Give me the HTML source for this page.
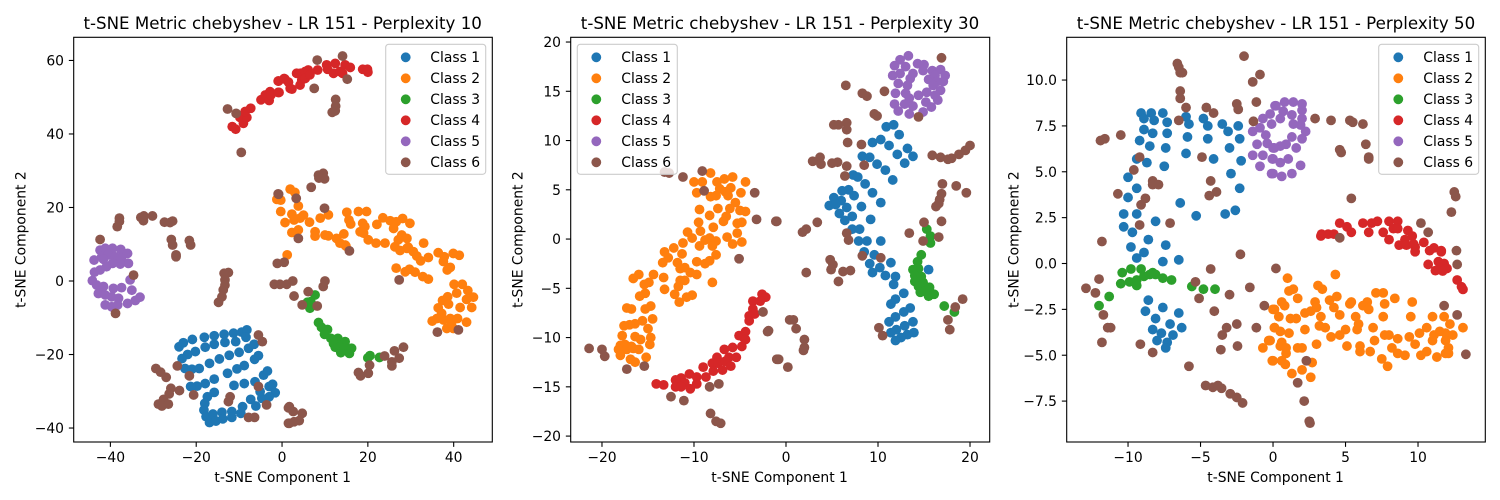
<!DOCTYPE html>
<html lang="en">
<head>
<meta charset="utf-8">
<title>t-SNE Metric chebyshev - LR 151</title>
<style>
html,body{margin:0;padding:0;background:#fff;width:1500px;height:500px;overflow:hidden}
svg{display:block}
text{font-family:"DejaVu Sans","Liberation Sans",sans-serif;fill:#000}
.title{font-size:16.67px;text-anchor:middle}
.axis-label{font-size:13.89px;text-anchor:middle}
.legend-text{font-size:13.89px}
.tick{font-size:13.89px}
.legend-box{fill:#fff;fill-opacity:.8;stroke:#ccc;stroke-width:1.1}
.spine{fill:none;stroke:#000;stroke-width:1.1}
</style>
</head>
<body>
<svg id="figure" width="1500" height="500" viewBox="0 0 1500 500" xmlns="http://www.w3.org/2000/svg">
<g id="panel-1">
  <g id="marks-1"></g>
  <rect class="spine" x="73.7" y="37.3" width="418.6" height="404.7"/>
  <g id="ticks-1"></g>
  <text class="title" x="282.7" y="29">t-SNE Metric chebyshev - LR 151 - Perplexity 10</text>
  <text class="axis-label" x="282.7" y="482">t-SNE Component 1</text>
  <text class="axis-label" transform="translate(25.6,239.6) rotate(-90)">t-SNE Component 2</text>
  <g>
    <rect class="legend-box" x="385.7" y="44.3" width="100" height="130" rx="3"/>
    <g><circle cx="405.7" cy="57.3" r="4.9" fill="#1f77b4"/><text class="legend-text" x="430.3" y="62">Class 1</text></g>
    <g><circle cx="405.7" cy="78.3" r="4.9" fill="#ff7f0e"/><text class="legend-text" x="430.3" y="83">Class 2</text></g>
    <g><circle cx="405.7" cy="99.3" r="4.9" fill="#2ca02c"/><text class="legend-text" x="430.3" y="104">Class 3</text></g>
    <g><circle cx="405.7" cy="120.3" r="4.9" fill="#d62728"/><text class="legend-text" x="430.3" y="125">Class 4</text></g>
    <g><circle cx="405.7" cy="141.3" r="4.9" fill="#9467bd"/><text class="legend-text" x="430.3" y="146">Class 5</text></g>
    <g><circle cx="405.7" cy="162.3" r="4.9" fill="#8c564b"/><text class="legend-text" x="430.3" y="167">Class 6</text></g>
  </g>
</g>
<g id="panel-2">
  <g id="marks-2"></g>
  <rect class="spine" x="570.7" y="37.3" width="419" height="404.7"/>
  <g id="ticks-2"></g>
  <text class="title" x="780" y="29">t-SNE Metric chebyshev - LR 151 - Perplexity 30</text>
  <text class="axis-label" x="779.6" y="482">t-SNE Component 1</text>
  <text class="axis-label" transform="translate(522.6,239.6) rotate(-90)">t-SNE Component 2</text>
  <g>
    <rect class="legend-box" x="577.3" y="44.3" width="100" height="130" rx="3"/>
    <g><circle cx="596.3" cy="57.3" r="4.9" fill="#1f77b4"/><text class="legend-text" x="621.3" y="62">Class 1</text></g>
    <g><circle cx="596.3" cy="78.3" r="4.9" fill="#ff7f0e"/><text class="legend-text" x="621.3" y="83">Class 2</text></g>
    <g><circle cx="596.3" cy="99.3" r="4.9" fill="#2ca02c"/><text class="legend-text" x="621.3" y="104">Class 3</text></g>
    <g><circle cx="596.3" cy="120.3" r="4.9" fill="#d62728"/><text class="legend-text" x="621.3" y="125">Class 4</text></g>
    <g><circle cx="596.3" cy="141.3" r="4.9" fill="#9467bd"/><text class="legend-text" x="621.3" y="146">Class 5</text></g>
    <g><circle cx="596.3" cy="162.3" r="4.9" fill="#8c564b"/><text class="legend-text" x="621.3" y="167">Class 6</text></g>
  </g>
</g>
<g id="panel-3">
  <g id="marks-3"></g>
  <rect class="spine" x="1066.7" y="37.3" width="418.6" height="404.7"/>
  <g id="ticks-3"></g>
  <text class="title" x="1276" y="29">t-SNE Metric chebyshev - LR 151 - Perplexity 50</text>
  <text class="axis-label" x="1275.6" y="482">t-SNE Component 1</text>
  <text class="axis-label" transform="translate(1018.6,239.6) rotate(-90)">t-SNE Component 2</text>
  <g>
    <rect class="legend-box" x="1378.7" y="44.3" width="100" height="130" rx="3"/>
    <g><circle cx="1398.3" cy="57.3" r="4.9" fill="#1f77b4"/><text class="legend-text" x="1423.3" y="62">Class 1</text></g>
    <g><circle cx="1398.3" cy="78.3" r="4.9" fill="#ff7f0e"/><text class="legend-text" x="1423.3" y="83">Class 2</text></g>
    <g><circle cx="1398.3" cy="99.3" r="4.9" fill="#2ca02c"/><text class="legend-text" x="1423.3" y="104">Class 3</text></g>
    <g><circle cx="1398.3" cy="120.3" r="4.9" fill="#d62728"/><text class="legend-text" x="1423.3" y="125">Class 4</text></g>
    <g><circle cx="1398.3" cy="141.3" r="4.9" fill="#9467bd"/><text class="legend-text" x="1423.3" y="146">Class 5</text></g>
    <g><circle cx="1398.3" cy="162.3" r="4.9" fill="#8c564b"/><text class="legend-text" x="1423.3" y="167">Class 6</text></g>
  </g>
</g>
</svg>
<script>
// ---- categories ----
const classNames = ["Class 1","Class 2","Class 3","Class 4","Class 5","Class 6"];

// ---- tick values and labels ----
const p1XTicks = [-40,-20,0,20,40];
const p1YTicks = [-40,-20,0,20,40,60];
const p2XTicks = [-20,-10,0,10,20];
const p2YTicks = [-20,-15,-10,-5,0,5,10,15,20];
const p3XTicks = [-10,-5,0,5,10];
const p3YTicks = [-7.5,-5,-2.5,0,2.5,5,7.5,10];
const p3YTickLabels = ["\u22127.5","\u22125.0","\u22122.5","0.0","2.5","5.0","7.5","10.0"];

// ---- Perplexity 10 series [x, y] ----
const p1Class1 = [[-24,-17.9],[-23,-16.8],[-20.9,-15.9],[-18.1,-15.3],[-15.8,-14.9],[-13.5,-14.5],[-11.3,-14.2],[-9.4,-13.9],[-8.2,-13.3],[-8.4,-15.3],[-10.8,-16.5],[-13.3,-16.7],[-15.8,-17.2],[-17.9,-18],[-20.2,-19.2],[-22,-20],[-23.3,-21.1],[-22.6,-23.8],[-21,-24],[-19.3,-23.8],[-16.9,-22.4],[-14.6,-21.2],[-12.3,-20.2],[-10,-19.4],[-7.8,-18.3],[-6.5,-17.2],[-5.5,-20.3],[-6.4,-21.3],[-8.8,-23],[-10.5,-23.9],[-12.7,-25.1],[-15.8,-26.7],[-17.9,-27.9],[-19.8,-28.6],[-21.3,-28.7],[-15.8,-30.3],[-17.4,-31.5],[-18,-33.3],[-18.2,-35.1],[-17.7,-36.9],[-16.9,-38.5],[-16.1,-36.2],[-15.4,-38.1],[-14,-35.7],[-13.8,-37.5],[-11.7,-35.5],[-11.7,-37.1],[-9.6,-36],[-9.2,-34.2],[-7.3,-32.2],[-6.1,-34],[-4.7,-31.9],[-5.1,-30.1],[-3,-28.7],[-2.2,-28.1],[-1.6,-30.4],[-3,-31.5],[-4.3,-25.6],[-3.4,-24.5],[-6.3,-27.4],[-8.8,-27.9],[-11.2,-28.4]];
const p1Class2 = [[1.9,25],[3,24.1],[-1.2,22.2],[-0.3,22],[-0.3,18.9],[3.8,20.4],[2.3,18.2],[5,17.9],[0.7,15.9],[2.8,16.6],[4.2,17.1],[6.4,16],[8.9,17.1],[10.8,18],[15.1,18.7],[17.8,18.9],[19.7,18.9],[15.6,16.6],[16,15.5],[23.5,17.2],[22.1,15.4],[25.2,16.4],[28.1,17],[26.6,16.1],[29.8,15.7],[26,14.3],[18.8,15.7],[18.2,13.4],[19.3,14.8],[2.3,13.2],[3.8,13.9],[7.7,13.4],[7.7,12.2],[10,12.5],[10.8,12.3],[14.4,12.8],[12.7,11.6],[20.1,11.2],[21.9,10.3],[24,10.3],[19,13],[27.9,12.5],[29.1,11.6],[27.1,11.2],[33,10.3],[13.5,10.3],[14.7,9.8],[26.3,9.3],[29.1,8.9],[1.2,7.1],[14.9,9.5],[27.5,8.3],[29.4,9.2],[30.6,8],[31.4,6.8],[32.3,5.5],[34.1,6.4],[36.4,7.7],[37.8,6.6],[37.6,5.3],[39.9,7.5],[41.3,7],[39.2,3.7],[38.5,3],[26.6,3.5],[28.7,2.5],[29.7,3.2],[31,2.4],[32.8,1.2],[34.1,0.5],[40.1,-0.9],[42,-0.9],[40.7,-3.3],[43.3,-2.6],[44.6,-4.4],[43,-5],[38.6,-4.3],[37.4,-5.3],[38.8,-6.3],[44.2,-7.2],[41.5,-7.2],[36.4,-7.3],[37.2,-8.8],[36.1,-10.2],[35,-10.9],[37.6,-10.6],[39.2,-10.2],[40.9,-10.2],[43,-11.2],[38.4,-12.9],[39.9,-12.9],[39.5,-11.5]];
const p1Class3 = [[7.7,-3.8],[6.7,-5.6],[5.9,-5.8],[6.5,-7.4],[8.5,-11.3],[9.2,-12.6],[10.6,-13.2],[9.9,-14.5],[11.4,-15.6],[13,-15.6],[12,-17],[12.4,-18],[14.7,-16.5],[13.5,-17.9],[14.5,-18.3],[13.7,-19.5],[15.7,-19.7],[16.2,-18.3],[20.5,-20.3],[20,-20.9],[22.7,-20.8]];
const p1Class4 = [[-11.6,42],[-10.8,41.3],[-9,42.9],[-9.8,44.5],[-8.2,44.5],[-8.6,46.1],[-7.3,47],[-4.9,49.3],[-3.9,50.6],[-3,49.1],[-2.8,51.5],[-0.7,51.3],[-0.8,54.4],[0.7,54.9],[1.9,52.4],[-2.6,50.6],[-0.9,51.3],[-0.9,54.4],[0.5,55.1],[1.5,54.1],[2.3,52.2],[3.4,56.5],[4.3,56.5],[5.4,57],[6.1,57.4],[4.6,54.7],[4.2,53.3],[5.4,55.1],[6.5,56.1],[8.3,57.4],[10.4,58.8],[12.4,59.2],[10.6,57.6],[12,56.5],[13.5,57],[14.7,58.8],[15.9,58.1],[14.1,56.5],[18.8,57.6],[19.9,57.6],[20,56.8]];
const p1Class5 = [[-42.4,8.4],[-41.2,8.9],[-39.5,8.9],[-37.6,8.6],[-36,7.5],[-43.8,5.7],[-42,6.6],[-40.5,7.1],[-38.9,6.6],[-37.4,6.2],[-41.6,5.9],[-35.8,4.8],[-37.7,4.6],[-39.5,4.8],[-40.9,3.9],[-42.4,3],[-43.7,2.4],[-44.2,0.1],[-43.2,-1.1],[-41.6,-1.5],[-39.3,-2],[-37.4,-1.8],[-35.4,0.3],[-35,-2.5],[-42.8,-3.4],[-41.2,-3.8],[-39.7,-4.3],[-38.1,-4.7],[-33.1,-4.4],[-34.2,-5.3],[-36,-6.1],[-41.2,-6.5],[-39.7,-7],[-38.3,-6.5]];
const p1Class6 = [[-12.7,46.8],[-10.7,45.6],[-9.5,35],[-0.8,23.6],[-42.4,11.3],[-37.9,17.1],[-37.9,16.2],[-38.4,14.8],[-32.9,17.3],[-32.2,17.7],[-32.3,16.4],[-30.2,17.7],[-27.4,16],[-25.5,16.3],[-26.1,15.9],[-25.8,11.3],[-25.5,9.8],[-21.6,11],[-21.3,9.8],[-24.7,7.1],[-24.7,6.6],[-34.6,1.6],[-38.8,-8.8],[-12.5,2.3],[-13.5,2.1],[-13.3,0.3],[-13.3,-1.1],[-13.7,-2.4],[-14,-4.3],[-14.8,-5.8],[-5.5,-14.7],[-4.6,-16.5],[-24.4,-23.1],[-29.4,-23.8],[-28.3,-24.8],[-27,-26.2],[-21.6,-25.8],[-25.9,-29.2],[-26.3,-30.7],[-23.9,-29.8],[-20.6,-31],[-27.6,-32.2],[-28.8,-33.5],[-28,-34],[-26.5,-33.5],[-12.1,-31.5],[-12.5,-32.8],[-5.5,-28.7],[-3.6,-33.7],[-7.8,-37.1],[-6.4,-37.1],[1.5,-34.5],[1.5,-38.7],[8.2,60.1],[14.1,61.2],[15.2,54.9],[7.5,52.4],[12.5,49.4],[12.5,47.6],[12.4,46.3],[11.7,45.9],[9.6,29.3],[8.5,28.8],[9.9,27.8],[8.6,28],[6.8,25.5],[-0.9,23.7],[3.3,22.5],[9.9,19.8],[3.8,11.6],[15.7,8.2],[-1.1,4.8],[0.5,5.1],[27.3,0.3],[-1.8,-0.9],[-0.5,-0.9],[1.1,-0.9],[2.5,0],[9.6,-1.5],[10,0],[2.8,-4.1],[6.1,-2.9],[4.7,-6.5],[8.2,-6.8],[36.2,-13.9],[41.1,-13.3],[28.3,-18],[26.2,-19],[23.9,-20.4],[27.3,-21],[25.6,-22],[25.6,-23.1],[20.4,-22.9],[20.1,-25.1],[17.8,-24.9],[18.3,-25.8],[1.7,-34.2],[2.6,-35.5],[4.7,-36],[1.7,-38.7],[2.8,-38.3],[4,-38]];

// ---- Perplexity 30 series [x, y] ----
const p2Class1 = [[10.9,11.4],[11.7,11.6],[12.3,10.6],[9.4,9.8],[10.3,10.1],[11.2,9.5],[13.2,9.2],[12.1,8.6],[13.8,8.4],[12.9,7.7],[8.3,8.4],[9.1,8.3],[9.9,7.6],[10.8,7],[11.6,6],[7.3,6.5],[7.8,6.3],[8.6,5.6],[9.4,4.7],[6.1,4.9],[6.8,5],[7.4,4.4],[5.2,4.2],[6,3.9],[4.7,3.4],[5.4,3.5],[6.6,3.2],[8.2,3.3],[10.3,3.7],[5.8,2.6],[7.2,2.3],[6.4,1.9],[9.2,2],[7.2,1],[8,1],[7.9,-0.2],[8.8,-0.2],[10.3,-0.2],[8.5,-1.3],[9.6,-1.6],[11.4,-2.4],[9.1,-2.5],[10.2,-2.9],[9.4,-3.4],[10.8,-3.7],[11.9,-3.8],[11.7,-4.6],[15.5,-3.1],[12.8,-5.5],[11.9,-6.1],[11.4,-6.6],[13.5,-7],[12.8,-7.4],[11.9,-7.9],[11.2,-8.4],[13.8,-8.4],[12.9,-8.8],[12,-9.2],[11.4,-9.5],[13.9,-9.5],[13.2,-9.7],[12.5,-10],[11.9,-10.3]];
const p2Class2 = [[-8.2,6.7],[-10,5.8],[-9.1,5.8],[-7.5,5.8],[-6.7,6.1],[-5.8,6.3],[-4.4,5.8],[-9.7,4.7],[-7.2,5.1],[-6,5.2],[-6.6,4.8],[-6.3,4.4],[-7.6,4.4],[-8.2,4.3],[-4.9,4.7],[-9.4,3],[-7.4,3.1],[-8.3,2.4],[-6.1,3.1],[-5.5,3.7],[-5,2.9],[-4.4,2.8],[-6.5,2.3],[-6.8,1.8],[-9.5,1.7],[-5.3,1.6],[-4.8,1.7],[-7.9,1.2],[-10.7,0.7],[-9.3,0.8],[-10.2,0.1],[-5.3,0.6],[-6.4,0.2],[-8.8,-0.1],[-8.3,0.1],[-7.6,-0.2],[-11.2,-0.4],[-9.4,-0.7],[-8,-0.7],[-5.8,-0.5],[-4.8,-0.3],[-12.2,-0.9],[-13.2,-1.3],[-12.8,-1.9],[-13.4,-2.4],[-11.3,-1.5],[-7.6,-1.6],[-9.7,-2.3],[-8.8,-2.5],[-8.3,-2.2],[-11.8,-2.4],[-11.5,-3],[-11,-2.9],[-10.4,-3.4],[-9.7,-3.6],[-8,-4.4],[-11,-4.2],[-11.5,-4.2],[-11.7,-4.8],[-13.2,-5.1],[-12.1,-5.6],[-13.3,-3.9],[-14.4,-3.6],[-16,-3.6],[-16.6,-4],[-14.9,-4.4],[-15.4,-4.6],[-15.3,-5.5],[-15.9,-5.8],[-10.2,-5.7],[-10.8,-5.9],[-11.6,-6.4],[-14.7,-6.8],[-15.3,-7.1],[-17.3,-7],[-16.8,-7.1],[-14.5,-8.1],[-15.6,-8.3],[-16.4,-8.6],[-17,-8.7],[-17.6,-8.8],[-15,-9.1],[-17.8,-9.8],[-16.4,-9.9],[-15.8,-10.2],[-14.7,-10],[-14.8,-10.7],[-18,-10.8],[-17.5,-10.7],[-16.8,-10.9],[-18.2,-11.2],[-17.3,-11.2],[-16.6,-11.1],[-16,-11.2],[-18,-11.8],[-16.9,-12.2],[-16.4,-12.5],[-15.2,-12]];
const p2Class3 = [[15.3,1],[15.7,0.3],[15.7,-0.4],[14.7,-1.6],[14.3,-2.3],[14.4,-3],[13.8,-3.1],[14,-3.7],[14.7,-3.8],[14,-4.3],[14.9,-4.4],[14.4,-4.8],[15.6,-4.9],[14.6,-5.4],[15.1,-5.3],[15.5,-5.8],[16.1,-5.6],[17.2,-6.8],[18.3,-7.4]];
const p2Class4 = [[-2.6,-5.6],[-2.2,-5.9],[-2.8,-6.3],[-3.6,-6.3],[-3.6,-7.1],[-3.4,-7.6],[-4,-7.8],[-4,-8.3],[-4.4,-9.4],[-5.1,-9.8],[-4.6,-10],[-4.4,-10.2],[-4.8,-10.9],[-5.8,-11],[-6.7,-11.2],[-7.5,-12],[-6.2,-12],[-5.4,-12],[-8,-12.6],[-7.4,-12.6],[-6.6,-12.4],[-6,-12.9],[-9,-13],[-7.9,-13.4],[-6.9,-13.3],[-8.7,-14],[-10.5,-13.7],[-9.7,-14],[-11.4,-14.1],[-12,-14.3],[-11,-14.6],[-9.7,-14.7],[-12,-15],[-11.4,-15],[-10.4,-15.2],[-14.1,-14.7],[-13.3,-14.8]];
const p2Class5 = [[13.3,18.6],[12.4,18.2],[11.8,17.6],[13,17.5],[14.3,17.8],[15,17.7],[14.9,17.1],[12.4,16.8],[11.6,16.6],[13.8,16.8],[15.9,17.1],[16.8,17.2],[17.3,16.6],[13.5,16.3],[15.5,16.2],[16.2,16.6],[17.1,16],[16.4,16],[12.2,15.8],[13.2,15.6],[16,15.6],[16.8,15.1],[11.9,14.8],[13,14.8],[14.4,14.6],[15.3,14.9],[13.4,14.3],[16.2,14.6],[16.5,14.1],[15.2,13.9],[11.8,13.7],[12.9,13.7],[13.8,13.5],[15.8,13.4],[12.2,13],[13.4,12.7],[14.9,12.9]];
const p2Class6 = [[-13.2,6.8],[-12.7,6.7],[-11.2,6.3],[-9.1,6.9],[-8.9,4.9],[-3.4,4.7],[-3.2,2],[-1,1.8],[16.9,18.4],[6.5,15.6],[8.3,14.8],[8.8,14.5],[10.7,15],[14.4,12.4],[9.6,12.7],[9.9,12.5],[6.6,11.8],[5.2,11.6],[5.7,11.6],[6.6,11.1],[6.7,9.8],[8.2,9.6],[3.7,8.3],[2.9,7.9],[3.8,7.6],[5,7.7],[5.6,7.8],[6.6,7.4],[8.5,7.5],[6.4,6.4],[15.9,8.5],[16.8,8.3],[17.6,8.1],[18,8.2],[18.8,8.6],[19.5,9],[20,9.5],[17,5.6],[18.5,5.4],[19.6,4.7],[16.9,4.6],[16.7,4],[16.6,3.6],[16.3,3.3],[-1.1,1.8],[3.4,1.7],[2.2,1],[1.8,0.7],[15,1.7],[16.9,1.8],[13.4,0.6],[6.6,0.6],[6.8,-0.1],[16.6,0.2],[14.9,-0.2],[8.3,-1.7],[10.3,-1.9],[4.8,-2.1],[5.1,-2.6],[4.9,-3.1],[6.2,-3.3],[7,-3.2],[5.7,-4.3],[2.2,-3.4],[0.4,-8.2],[0.8,-8.2],[1.1,-9.1],[2,-10.2],[2,-11],[1.9,-11.3],[-1,-12.2],[-0.8,-12.2],[0.2,-13],[-1.9,-9.3],[10.1,-9],[10.5,-9.8],[17.6,-8.2],[17.8,-9.2],[18.4,-6.9],[19.2,-6.1],[-5.1,-2],[-2.5,-7.4],[-2,-9.4],[-0.9,-12.2],[-21.4,-11.1],[-20,-11.2],[-19.7,-11.9],[-17.3,-13.2],[-15.4,-12.9],[-8.3,-15],[-7.3,-14.7],[-12.5,-16],[-11.1,-16.4],[-8.2,-17.7],[-7.6,-18.5],[-7.1,-18.7]];

// ---- Perplexity 50 series [x, y] ----
const p3Class1 = [[-9.1,8.2],[-8.4,8.2],[-7.6,8.2],[-8.9,7.9],[-8.2,7.8],[-7.3,7.7],[-6,8],[-5.8,7.6],[-4.8,7.9],[-4.5,7.5],[-3.5,7.6],[-3.1,7.2],[-2.4,7.5],[-2.3,6.8],[-3,6.3],[-2.2,5.6],[-2.9,4.9],[-2.3,4.1],[-8.9,7.3],[-8.3,7.1],[-7.3,7.1],[-5.9,6.9],[-4.5,6.8],[-9.2,6.7],[-8.5,6.4],[-7.4,6.3],[-6,6],[-4.1,5.7],[-9.4,5.7],[-8.7,5.5],[-7.5,5.3],[-10,4.7],[-9.4,4.1],[-10,3.6],[-6.4,3.3],[-5.3,2.6],[-3.3,2.7],[-2.6,2.9],[-10.3,2.7],[-9.4,2.7],[-8.1,2.3],[-10.3,2],[-9.7,1.7],[-8.6,1.3],[-9.8,0.9],[-7.4,1],[-8.9,0.6],[-9.4,0.3],[-7.6,0.1],[-6.5,0.2],[-8.6,-2],[-7.6,-2.4],[-8.8,-2.6],[-6.5,-2.7],[-8.1,-3],[-7.1,-3.3],[-8.3,-3.6],[-7.7,-3.8],[-6.3,-3.5],[-6.9,-3.9],[-8,-4.2],[-7.3,-4.3],[-7.4,-4.6]];
const p3Class2 = [[1,-0.8],[4.3,-0.6],[1.1,-1.5],[1.4,-1.4],[3.1,-1.2],[3.4,-1.4],[1.7,-1.9],[0.6,-2.1],[0.8,-2.3],[2.9,-2.1],[3.9,-2],[4.4,-1.8],[4.2,-2.4],[7.1,-1.6],[7.6,-1.6],[8.4,-1.9],[7.7,-2.2],[9.6,-2.1],[5.4,-2.1],[5.3,-2.2],[6.5,-2.1],[6.2,-2.3],[6.6,-2.5],[0.1,-2.5],[0.4,-2.9],[2.2,-2.7],[2.6,-2.6],[3,-2.4],[4.6,-2.8],[1.2,-3],[1.6,-3],[3.3,-2.9],[5.7,-2.9],[7.6,-2.9],[9.5,-2.9],[11,-2.9],[11.8,-2.9],[12.2,-3.3],[5.9,-3.3],[5.8,-3.6],[3.2,-3.4],[3.6,-3.5],[5,-3.6],[6.9,-3.5],[10.6,-3.5],[13.1,-3.5],[0.1,-3.5],[0.5,-3.7],[1.1,-3.8],[2.2,-3.6],[10.1,-3.8],[11.1,-3.9],[11.5,-3.7],[11.9,-3.8],[12.4,-3.9],[4,-4],[4.6,-3.9],[7.7,-3.9],[8,-3.9],[8.6,-4.1],[9.4,-4],[11,-4.2],[11.9,-4.2],[7,-4.2],[9.8,-4.4],[-0.2,-4.2],[0.6,-4.3],[0.5,-4.5],[0.9,-4.6],[1.7,-4.6],[2,-4.6],[3,-4.4],[5.1,-4.5],[6,-4.5],[6,-4.8],[6.7,-4.8],[8.2,-4.6],[8.6,-4.9],[9.1,-5],[10.6,-4.8],[10.2,-5],[12.1,-4.6],[12.1,-4.9],[11.9,-4.9],[11.3,-5.1],[0.9,-4.9],[0,-5.3],[0.6,-5.3],[0.85,-5.5],[2.7,-5.4],[2,-5.8],[1.3,-6],[2.6,-6.2],[7.5,-5.2],[7.9,-5.6],[0,-2.5],[0.1,-3.5],[-0.3,-4.2],[-0.7,-4.6],[-0.05,-5.3]];
const p3Class3 = [[-10.4,-0.5],[-9.8,-0.3],[-9.1,-0.3],[-8.3,-0.5],[-10.5,-1.1],[-9.9,-1],[-9.4,-0.9],[-9.4,-1.2],[-8.9,-0.7],[-8.5,-0.6],[-8.1,-0.6],[-7.6,-0.8],[-7,-0.9],[-11.3,-1.8],[-12,-2.3],[-5.6,-1.25],[-4.8,-1.4],[-4,-1.4]];
const p3Class4 = [[4.6,2.2],[5.1,2],[5.4,1.7],[3.35,1.6],[3.3,1.5],[3.8,1.6],[4.2,1.6],[6.2,2.2],[6.8,2.2],[7.2,2.3],[6.6,1.7],[8,2.3],[8.6,2.3],[8.3,1.9],[8.6,1.9],[9.3,1.8],[7.6,1.7],[8,1.3],[9.6,1.5],[9.1,1.3],[10.4,1.15],[8.7,1],[9.2,1],[9.8,0.9],[11.1,0.85],[11.6,0.7],[9.7,1.06],[9.8,0.64],[10.8,0.7],[11.6,0.64],[10.7,-0.05],[11.4,0.1],[11.8,0],[11.5,-0.27],[12,-0.27],[11.2,-0.39],[11.7,-0.41],[12.7,-0.9],[13,-1.27],[13.1,-1.41]];
const p3Class5 = [[0.14,8.6],[-0.2,8.15],[-0.7,7.9],[-1.4,7.2],[-0.9,7.4],[-0.1,7.6],[-0.5,7],[-1.1,6.5],[-0.4,6.55],[0,6.3],[-1.4,5.9],[-0.7,5.9],[-0.05,5.7],[-0.9,5.3],[-0.1,4.9],[0.8,8.8],[1.4,8.8],[2,8.7],[0.2,8.6],[0.7,8.3],[2,8.35],[1.3,8.1],[0.5,7.9],[2,7.9],[1.4,7.6],[1.9,7.55],[2.25,7.2],[2,6.8],[1.3,6.9],[0.9,6.5],[0.5,6.4],[0.1,6.3],[1.6,6.3],[1.05,5.7],[0.5,5.5],[0,5.7],[1.9,5.35],[1.3,4.9],[0.6,4.75],[0,4.9]];
const p3Class6 = [[-6.6,10.9],[-6.5,10.7],[-6.4,10.4],[-6.25,10.4],[-6.4,9.4],[-6.4,9],[-6,8.5],[-6.5,7.8],[-4.6,8.5],[-4.1,8.2],[-2.5,8.7],[-2.4,8.4],[-2,11.3],[-0.9,10.3],[-1.4,9.9],[-1.15,8.8],[-1.35,7.75],[-10.5,7],[-11.9,6.7],[-11.6,6.8],[-4.9,5.8],[-9.2,5.8],[-9.6,5.1],[-4.3,4.5],[-8.3,4.5],[-8.3,4.3],[-7.9,4.3],[-3.9,3.9],[-4.4,3.7],[-10.7,3.8],[-8.8,3.55],[-9.1,3.2],[-9.2,2.1],[-7.1,2.2],[-11.8,1.2],[2.9,7.9],[4,7.8],[5.3,7.8],[5.5,7.7],[6.2,7.6],[6.4,6.5],[4.6,6.2],[4.7,6.05],[6.6,5.8],[6.6,5.7],[5.4,3.55],[12.5,3.9],[12.6,3.65],[12.3,2.8],[10.2,2.2],[10.7,1.7],[4.6,1.4],[12.65,0.7],[-2.25,0.5],[-4.3,-0.3],[-12,-0.85],[-12.9,-1.35],[-12.25,-1.6],[-5.35,-1],[-5.1,-1.9],[-3,-1.7],[-1.6,-1.3],[-4.05,-2.6],[-11.7,-2.8],[-0.6,-2.3],[-2.5,-3.3],[-3.2,-3.5],[-1.15,-3.5],[-11.4,-3.5],[-11.2,-3.5],[-3.5,-3.9],[-9.15,-4.4],[-11.8,-4.3],[-2.45,-4.5],[-3.6,-4.7],[-8.3,-4.85],[-5.8,-5.6],[-4.65,-6.65],[-4.15,-6.75],[-3.8,-6.65],[-3.55,-6.8],[-2.95,-7.1],[-2.5,-7.3],[-2.1,-7.6],[0.2,-0.27],[12.7,-0.05],[11.8,-2.3],[12.7,-2.8],[13.3,-4.95],[2.3,-5.3],[1.7,-6.5],[2.15,-7.5],[2.5,-8.6],[2.55,-8.7]];

// ---- rendering ----
const NS = "http://www.w3.org/2000/svg";
const colors = ["#1f77b4","#ff7f0e","#2ca02c","#d62728","#9467bd","#8c564b"];

function linear(d0, d1, r0, r1) {
  return function (v) { return r0 + (v - d0) / (d1 - d0) * (r1 - r0); };
}
function fmt(v) {
  return String(Math.abs(v) === v ? v : "\u2212" + Math.abs(v));
}
function drawPanel(id, box, xLim, yLim, series, xTicks, yTicks, yLabels) {
  const xScale = linear(xLim[0], xLim[1], box.l, box.r);
  const yScale = linear(yLim[0], yLim[1], box.b, box.t);
  const marks = document.getElementById("marks-" + id);
  series.forEach(function (pts, c) {
    const group = document.createElementNS(NS, "g");
    
    
    group.setAttribute("fill", colors[c]);
    pts.forEach(function (p) {
      const dot = document.createElementNS(NS, "circle");
      
      
      dot.setAttribute("cx", xScale(p[0]).toFixed(2));
      dot.setAttribute("cy", yScale(p[1]).toFixed(2));
      dot.setAttribute("r", "4.9");
      group.appendChild(dot);
    });
    marks.appendChild(group);
  });
  const ticks = document.getElementById("ticks-" + id);
  function tickMark(x1, y1, x2, y2) {
    const line = document.createElementNS(NS, "line");
    
    
    line.setAttribute("x1", x1);
    line.setAttribute("y1", y1);
    line.setAttribute("x2", x2);
    line.setAttribute("y2", y2);
    line.setAttribute("stroke", "#000");
    line.setAttribute("stroke-width", "1.1");
    ticks.appendChild(line);
  }
  function tickText(x, y, anchor, label) {
    const t = document.createElementNS(NS, "text");
    
    
    t.setAttribute("class", "tick");
    t.setAttribute("x", x);
    t.setAttribute("y", y);
    t.setAttribute("text-anchor", anchor);
    t.textContent = label;
    ticks.appendChild(t);
  }
  xTicks.forEach(function (v) {
    const x = xScale(v);
    tickMark(x, box.b, x, box.b + 4.86);
    tickText(x, box.b + 20.2, "middle", fmt(v));
  });
  yTicks.forEach(function (v, i) {
    const y = yScale(v);
    tickMark(box.l, y, box.l - 4.86, y);
    tickText(box.l - 9.7, y + 5.1, "end", yLabels ? yLabels[i] : fmt(v));
  });
}
drawPanel(1, {l:73.7,r:492.3,t:37.3,b:442}, [-48.55,49.0], [-43.8,66.3],
  [p1Class1,p1Class2,p1Class3,p1Class4,p1Class5,p1Class6], p1XTicks, p1YTicks);
drawPanel(2, {l:570.7,r:989.7,t:37.3,b:442}, [-23.4,22.14], [-20.6,20.48],
  [p2Class1,p2Class2,p2Class3,p2Class4,p2Class5,p2Class6], p2XTicks, p2YTicks);
drawPanel(3, {l:1066.7,r:1485.3,t:37.3,b:442}, [-14.23,14.64], [-9.73,12.33],
  [p3Class1,p3Class2,p3Class3,p3Class4,p3Class5,p3Class6], p3XTicks, p3YTicks, p3YTickLabels);
</script>
</body>
</html>
